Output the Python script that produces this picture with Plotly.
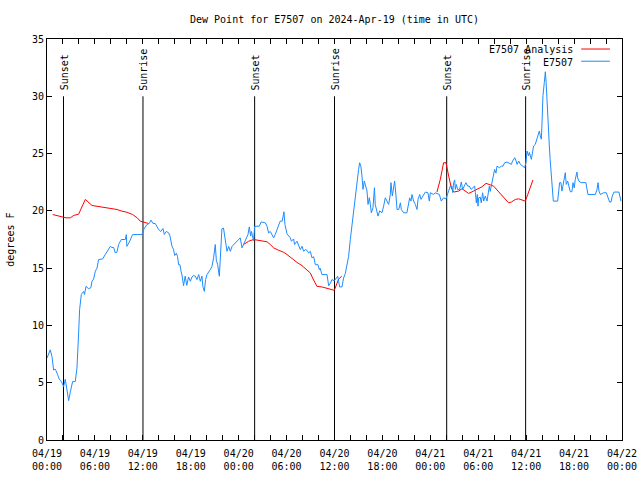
import pandas as pd
import plotly.graph_objects as go

START = "2024-04-19 00:00"
TITLE = "Dew Point for E7507 on 2024-Apr-19 (time in UTC)"

# Observations (hours after START, dew point degrees F)
obs_hours = [0.0, 0.2, 0.41, 0.62, 0.83, 1.0, 1.1, 1.33, 1.54, 1.8, 2.08, 2.29, 2.5, 2.71, 2.92, 3.21, 3.54, 3.75, 3.96, 4.08,
             4.3, 4.58, 4.7, 4.88, 5.21, 5.5, 5.63, 5.84, 6.05, 6.26, 6.46, 6.96, 7.3, 7.64, 7.93, 8.14, 8.35, 8.55, 8.76, 8.97,
             9.3, 9.8, 9.93, 10.0, 10.3, 10.72, 11.9, 12.1, 12.52, 12.8, 13.02, 13.27, 13.55, 13.98, 14.25, 14.52, 14.69, 14.94, 15.23, 15.4,
             15.65, 15.86, 15.98, 16.2, 16.35, 16.48, 16.65, 16.78, 16.9, 17.1, 17.3, 17.5, 17.73, 17.95, 18.15, 18.36, 18.57, 18.78, 18.99, 19.2,
             19.4, 19.52, 19.7, 19.86, 20.03, 20.45, 20.66, 20.86, 21.07, 21.2, 21.37, 21.58, 21.78, 21.9, 22.1, 22.33, 22.54, 22.75, 22.96, 23.17,
             23.37, 23.8, 24.2, 24.42, 24.83, 25.17, 25.33, 25.5, 25.6, 25.87, 26.0, 26.58, 26.83, 27.34, 27.55, 27.75, 27.96, 28.17, 28.38, 28.58,
             28.92, 29.2, 29.45, 29.67, 29.8, 30.05, 30.47, 30.6, 30.88, 31.0, 31.3, 31.51, 31.72, 31.93, 32.14, 32.35, 32.55, 32.76, 32.97, 33.18,
             33.39, 33.6, 33.93, 34.1, 34.2, 34.43, 35.06, 35.27, 35.5, 35.68, 35.97, 36.23, 36.4, 36.52, 36.64, 36.93, 37.14, 37.35, 37.56, 37.77,
             37.98, 38.19, 38.4, 38.6, 38.82, 39.02, 39.15, 39.3, 39.44, 39.57, 39.73, 39.86, 40.07, 40.2, 40.36, 40.49, 40.61, 40.82, 41.0, 41.1,
             41.3, 41.45, 41.66, 41.94, 42.15, 42.36, 42.57, 42.78, 42.99, 43.07, 43.24, 43.4, 43.53, 43.7, 43.83, 44.04, 44.25, 44.37, 44.66, 45.07,
             45.28, 45.41, 45.58, 45.7, 45.91, 46.12, 46.33, 46.46, 46.67, 46.83, 47.08, 47.37, 47.7, 47.87, 48.0, 48.42, 48.6, 49.13, 49.37, 49.65,
             49.96, 50.21, 50.38, 50.5, 50.71, 50.8, 50.92, 51.05, 51.13, 51.25, 51.42, 51.67, 51.88, 52.05, 52.25, 52.46, 52.67, 52.88, 53.1, 53.3,
             53.55, 53.64, 53.76, 53.88, 53.97, 54.05, 54.25, 54.38, 54.55, 54.68, 54.88, 55.1, 55.22, 55.39, 55.5, 55.72, 55.93, 56.05, 56.22, 56.35,
             56.65, 56.9, 57.1, 57.3, 57.6, 57.8, 58.15, 58.3, 58.57, 58.74, 58.86, 59.07, 59.28, 59.57, 59.8, 59.97, 60.1, 60.3, 60.4, 60.65,
             60.93, 61.14, 61.35, 61.5, 61.65, 61.77, 61.9, 61.98, 62.1, 62.27, 62.4, 62.5, 62.69, 62.9, 63.0, 63.15, 63.36, 63.4, 63.94, 64.06,
             64.19, 64.35, 64.48, 64.6, 64.77, 64.9, 65.02, 65.2, 65.35, 65.52, 65.73, 65.86, 66.02, 66.15, 66.36, 66.44, 66.6, 66.86, 67.48, 67.6,
             67.74, 68.66, 68.87, 69.0, 69.12, 69.29, 69.7, 70.04, 70.2, 70.45, 70.62, 70.79, 71.0, 71.62, 71.87]
obs_values = [7.15, 7.6, 7.87, 7.3, 6.1, 6.2, 6.1, 5.7, 5.3, 5.1, 4.66, 5.3, 4.5, 3.44, 4.2, 5.1, 5.1, 6.27, 9.33, 11.37,
              12.7, 12.97, 12.7, 13.41, 13.2, 13.3, 13.85, 14.05, 14.73, 15.0, 15.75, 15.8, 16.19, 16.54, 16.9, 16.8, 16.8, 16.33, 16.4, 17.06,
              17.5, 17.5, 17.93, 16.9, 17.26, 17.93, 17.93, 18.37, 18.81, 18.9, 19.19, 18.9, 18.9, 18.37, 18.2, 18.46, 17.94, 18.2, 18.08, 17.8,
              16.91, 16.6, 16.1, 16.3, 16.0, 15.3, 15.3, 14.73, 14.4, 13.47, 14.3, 13.5, 14.23, 13.85, 14.23, 14.35, 14.3, 14.0, 14.44, 13.85,
              14.3, 13.4, 12.97, 14.0, 14.44, 14.87, 15.16, 15.9, 17.06, 15.7, 15.3, 14.29, 17.35, 18.43, 18.5, 17.2, 16.47, 16.9, 16.47, 16.9,
              17.06, 17.35, 17.64, 16.77, 17.35, 17.94, 18.6, 17.8, 18.2, 17.4, 18.66, 18.66, 19.04, 18.95, 18.66, 18.08, 18.2, 17.94, 17.64, 17.94,
              18.52, 19.1, 19.1, 19.92, 18.8, 18.0, 17.64, 17.35, 17.55, 17.06, 17.35, 16.91, 16.62, 16.91, 16.47, 16.62, 16.56, 16.33, 16.47, 15.9,
              16.0, 15.3, 15.3, 14.87, 15.0, 14.44, 14.44, 13.47, 13.7, 14.0, 13.9, 14.14, 14.29, 13.85, 13.36, 13.36, 14.14, 14.52, 15.16, 16.04,
              17.5, 18.81, 20.12, 21.58, 22.75, 23.62, 24.2, 23.9, 23.04, 21.87, 22.6, 22.3, 21.73, 20.56, 21.15, 20.56, 19.83, 20.27, 22.02, 20.56,
              20.0, 19.54, 20.0, 19.83, 20.41, 21.14, 20.85, 20.56, 21.43, 22.46, 21.3, 21.87, 22.6, 21.3, 20.12, 20.12, 20.7, 20.12, 19.83, 19.83,
              20.56, 21.14, 20.85, 21.43, 20.85, 20.56, 20.12, 21.0, 21.43, 21.0, 21.3, 21.64, 21.58, 20.85, 21.58, 21.43, 21.58, 21.43, 20.85, 21.14,
              21.05, 21.52, 21.87, 22.16, 22.16, 21.6, 22.46, 22.7, 21.87, 22.3, 21.87, 21.87, 22.52, 21.87, 22.16, 22.46, 22.16, 22.16, 21.87, 22.0,
              22.16, 21.58, 20.7, 21.43, 20.41, 21.14, 21.2, 20.7, 21.58, 20.85, 21.3, 20.85, 21.58, 22.16, 21.7, 22.46, 23.04, 23.62, 23.3, 23.9,
              23.77, 23.9, 23.9, 24.2, 24.26, 24.2, 24.06, 24.35, 24.64, 24.35, 24.06, 24.35, 24.06, 23.9, 23.77, 24.2, 25.22, 24.8, 25.1, 24.5,
              25.66, 25.8, 26.25, 26.68, 26.97, 26.54, 26.25, 27.56, 30.04, 31.2, 32.14, 31.2, 27.85, 25.66, 24.5, 23.04, 21.58, 20.85, 20.85, 21.72,
              22.46, 22.46, 21.72, 22.16, 22.9, 23.33, 22.31, 22.6, 22.16, 21.67, 21.67, 22.46, 22.0, 22.75, 23.39, 22.9, 22.6, 22.46, 22.46, 21.87,
              21.43, 21.43, 21.87, 22.46, 21.72, 21.43, 21.58, 21.58, 21.2, 20.77, 20.77, 21.3, 21.64, 21.64, 20.85]

# Analysis (None = no analysis available)
ana_hours = [0.71, 1.46, 2.08, 2.38, 2.92, 3.33, 3.96, 4.46, 4.8, 5.63, 6.1, 6.5, 7.3, 8.14, 8.76, 9.39, 10.0, 10.72, 11.3, 11.68,
             12.1, 12.7, 18.0,
             24.6, 25.25, 25.87, 26.3, 26.92, 27.55, 27.96, 28.38, 29.0, 29.63, 30.05, 30.68, 31.3, 31.93, 32.55, 32.97, 33.26, 33.8, 34.43,
             35.06, 35.68, 35.97, 36.3, 36.52, 36.9, 42.0,
             48.83, 49.25, 49.66, 49.96, 50.3, 50.63, 50.92, 51.55, 51.96, 52.38, 52.8, 53.42, 54.05, 54.46, 54.97, 55.5, 55.93, 56.47, 56.98,
             57.4, 57.8, 58.15, 58.65, 59.07, 59.5, 59.9, 60.2, 60.5, 60.85]
ana_values = [19.68, 19.54, 19.45, 19.39, 19.39, 19.6, 19.71, 20.42, 21.0, 20.47, 20.42, 20.36, 20.27, 20.18, 20.12, 19.97, 19.88, 19.68, 19.39, 19.1,
              19.0, 18.9, None,
              17.06, 17.35, 17.5, 17.44, 17.35, 17.3, 17.06, 16.77, 16.56, 16.39, 16.19, 15.8, 15.5, 15.22, 14.87, 14.58, 14.14, 13.41, 13.36,
              13.27, 13.12, 13.06, 13.7, 14.05, 14.3, None,
              21.64, 22.75, 24.2, 24.2, 23.04, 22.0, 21.64, 21.73, 21.93, 21.73, 21.52, 21.73, 21.93, 22.1, 22.4, 22.3, 22.16, 21.73, 21.3,
              21.0, 20.7, 20.77, 21.0, 21.05, 20.94, 20.85, 21.43, 22.0, 22.7]

# Sun events
event_labels = ["Sunset", "Sunrise", "Sunset", "Sunrise", "Sunset", "Sunrise"]
event_times = ["2024-04-19 02:04", "2024-04-19 12:01", "2024-04-20 02:00",
               "2024-04-20 12:00", "2024-04-21 02:03", "2024-04-21 11:56"]
EVENT_LINE_TOP = 30

x_tick_labels = ["04/19<br>00:00", "04/19<br>06:00", "04/19<br>12:00", "04/19<br>18:00",
                 "04/20<br>00:00", "04/20<br>06:00", "04/20<br>12:00", "04/20<br>18:00",
                 "04/21<br>00:00", "04/21<br>06:00", "04/21<br>12:00", "04/21<br>18:00",
                 "04/22<br>00:00"]
y_ticks = [0, 5, 10, 15, 20, 25, 30, 35]

FONT = "DejaVu Sans Mono"
BLUE = "#1e8cff"
RED = "#ff0000"

start = pd.Timestamp(START)
obs_t = start + pd.to_timedelta(obs_hours, unit="h")
ana_t = start + pd.to_timedelta(ana_hours, unit="h")
end = start + pd.Timedelta(hours=72)

fig = go.Figure()

for t in event_times:
    fig.add_trace(go.Scatter(x=[t, t], y=[0, EVENT_LINE_TOP], mode="lines",
                             line=dict(color="black", width=1), hoverinfo="skip", showlegend=False))

fig.add_trace(go.Scatter(x=ana_t, y=ana_values, mode="lines", name="E7507 Analysis",
                         line=dict(color=RED, width=1), connectgaps=False, showlegend=False))
fig.add_trace(go.Scatter(x=obs_t, y=obs_values, mode="lines", name="E7507",
                         line=dict(color=BLUE, width=1), showlegend=False))

for lab, t in zip(event_labels, event_times):
    fig.add_annotation(x=t, y=EVENT_LINE_TOP + 0.3, text=lab, textangle=-90, showarrow=False,
                       xanchor="center", yanchor="bottom", xshift=1,
                       font=dict(family=FONT, size=10, color="black"))

# Manual legend (text left of the sample line, gnuplot style)
legend_items = [("E7507 Analysis", RED, 0.973), ("E7507", BLUE, 0.9426)]
for text, col, yp in legend_items:
    fig.add_annotation(xref="paper", yref="paper", x=0.919, y=yp, text=text, showarrow=False,
                       xanchor="right", yanchor="middle", font=dict(family=FONT, size=10, color="black"))
    fig.add_shape(type="line", xref="paper", yref="paper", x0=0.929, x1=0.979, y0=yp + 0.002, y1=yp + 0.002,
                  line=dict(color=col, width=1))

fig.add_annotation(xref="paper", yref="paper", x=-0.064, y=0.5, text="degrees F", textangle=-90,
                   showarrow=False, xanchor="center", yanchor="middle",
                   font=dict(family=FONT, size=10, color="black"))

tickvals_all = pd.date_range(start, end, freq="2h")
ticktext_all = []
for i, tv in enumerate(tickvals_all):
    ticktext_all.append(x_tick_labels[i // 3] if i % 3 == 0 else "")

fig.update_layout(
    width=640, height=480, autosize=False,
    margin=dict(l=47, r=18, t=39, b=40, pad=0),
    paper_bgcolor="white", plot_bgcolor="white",
    font=dict(family=FONT, size=10, color="black"),
    title=dict(text=TITLE, x=0.5, xref="paper", xanchor="center", y=1 - 19 / 480, yanchor="middle",
               font=dict(family=FONT, size=10, color="black"), automargin=False),
    showlegend=False,
)
fig.update_xaxes(type="date", range=[start, end], tickmode="array", tickvals=tickvals_all, ticktext=ticktext_all,
                 ticks="inside", ticklen=5, tickcolor="black", showline=True, linecolor="black", linewidth=1,
                 mirror="ticks", showgrid=False, zeroline=False, tickfont=dict(family=FONT, size=10),
                 automargin=False, ticklabelstandoff=4)
fig.update_yaxes(range=[0, 35], tickmode="array", tickvals=y_ticks,
                 ticks="inside", ticklen=5, tickcolor="black", showline=True, linecolor="black", linewidth=1,
                 mirror="ticks", showgrid=False, zeroline=False, tickfont=dict(family=FONT, size=10),
                 automargin=False)

# remove the default 8px page margin so the 640x480 figure fills the window exactly
fig.write_html("out.html", config={"displayModeBar": False},
               post_script="document.body.style.margin='0px';document.body.style.overflow='hidden';")
